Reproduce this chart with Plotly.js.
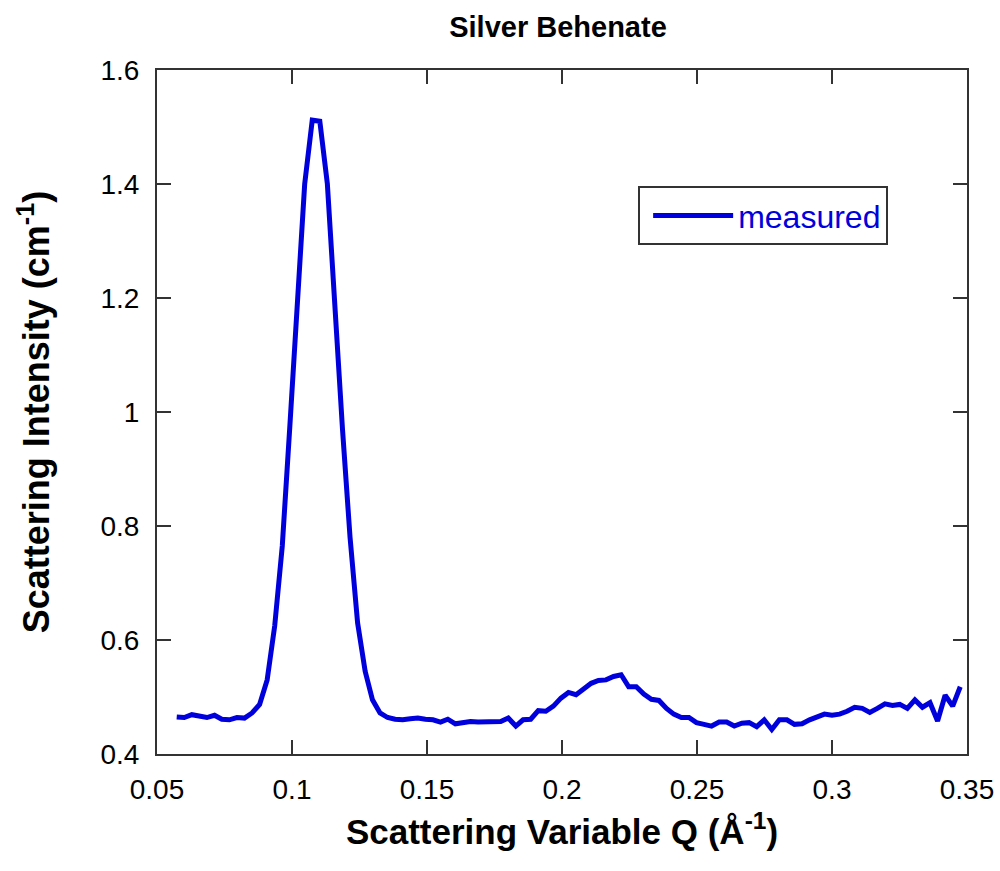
<!DOCTYPE html>
<html>
<head>
<meta charset="utf-8">
<script src="https://cdn.plot.ly/plotly-3.0.1.min.js"></script>
<style>html,body{margin:0;padding:0;background:#fff;}#chart{width:1000px;height:871px;}</style>
</head>
<body>
<div id="chart"></div>
<script>
// Scattering variable Q (1/Angstrom)
const qValues = [
  0.0573, 0.0601, 0.0629, 0.0657, 0.0685, 0.0713, 0.0740, 0.0768, 0.0796, 0.0824,
  0.0852, 0.0880, 0.0908, 0.0936, 0.0964, 0.0992, 0.1019, 0.1047, 0.1075, 0.1103,
  0.1131, 0.1159, 0.1187, 0.1215, 0.1243, 0.1271, 0.1298, 0.1326, 0.1354, 0.1382,
  0.1410, 0.1438, 0.1466, 0.1494, 0.1522, 0.1550, 0.1577, 0.1605, 0.1633, 0.1661,
  0.1689, 0.1717, 0.1745, 0.1773, 0.1801, 0.1829, 0.1856, 0.1884, 0.1912, 0.1940,
  0.1968, 0.1996, 0.2024, 0.2052, 0.2080, 0.2108, 0.2135, 0.2163, 0.2191, 0.2219,
  0.2247, 0.2275, 0.2303, 0.2331, 0.2359, 0.2387, 0.2414, 0.2442, 0.2470, 0.2498,
  0.2526, 0.2554, 0.2582, 0.2610, 0.2638, 0.2666, 0.2693, 0.2721, 0.2749, 0.2777,
  0.2805, 0.2833, 0.2861, 0.2889, 0.2917, 0.2945, 0.2972, 0.3000, 0.3028, 0.3056,
  0.3084, 0.3112, 0.3140, 0.3168, 0.3196, 0.3224, 0.3251, 0.3279, 0.3307, 0.3335,
  0.3363, 0.3391, 0.3419, 0.3447, 0.3475
];
// Scattering intensity (1/cm), "measured"
const intensity = [
  0.465, 0.464, 0.469, 0.466, 0.464, 0.468, 0.461, 0.460, 0.464, 0.463,
  0.472, 0.487, 0.530, 0.625, 0.765, 0.975, 1.190, 1.400, 1.512, 1.510,
  1.400, 1.170, 0.970, 0.780, 0.630, 0.545, 0.495, 0.472, 0.464, 0.461,
  0.460, 0.462, 0.463, 0.461, 0.460, 0.456, 0.461, 0.453, 0.455, 0.457,
  0.456, 0.456, 0.456, 0.457, 0.463, 0.449, 0.460, 0.461, 0.476, 0.475,
  0.484, 0.498, 0.508, 0.504, 0.514, 0.524, 0.529, 0.530, 0.536, 0.539,
  0.518, 0.518, 0.505, 0.496, 0.494, 0.480, 0.470, 0.464, 0.464, 0.455,
  0.452, 0.449, 0.456, 0.456, 0.449, 0.454, 0.455, 0.448, 0.460, 0.443,
  0.460, 0.460, 0.452, 0.453, 0.460, 0.465, 0.470, 0.468, 0.470, 0.475,
  0.482, 0.480, 0.473, 0.480, 0.488, 0.485, 0.487, 0.480, 0.495, 0.482,
  0.490, 0.458, 0.503, 0.484, 0.518
];
const seriesName = "measured";
const xTicks = [0.05, 0.1, 0.15, 0.2, 0.25, 0.3, 0.35];
const xTickText = ["0.05", "0.1", "0.15", "0.2", "0.25", "0.3", "0.35"];
const yTicks = [0.4, 0.6, 0.8, 1.0, 1.2, 1.4, 1.6];
const yTickText = ["0.4", "0.6", "0.8", "1", "1.2", "1.4", "1.6"];

const FONT = "Liberation Sans, Arial, Helvetica, sans-serif";
const BLUE = "rgb(0,0,220)";

const trace = {
  x: qValues, y: intensity, type: "scatter", mode: "lines", name: seriesName,
  line: {color: BLUE, width: 5}
};

const axisCommon = {
  showgrid: false, zeroline: false, showline: true, linecolor: "#333", linewidth: 2,
  mirror: "ticks", ticks: "inside", ticklen: 14, tickwidth: 1.5, tickcolor: "#333",
  tickfont: {family: FONT, size: 28, color: "#000"}, automargin: false
};

const layout = {
  width: 1000, height: 871,
  paper_bgcolor: "#fff", plot_bgcolor: "#fff",
  margin: {l: 157, r: 33, t: 70, b: 117},
  showlegend: true,
  title: {text: "<b>Silver Behenate</b>", font: {family: FONT, size: 29, color: "#000"},
          x: 0.558, xref: "container", xanchor: "center", y: 0.969, yref: "container", yanchor: "middle"},
  xaxis: Object.assign({}, axisCommon, {
    range: [0.05, 0.35], tickmode: "array", tickvals: xTicks, ticktext: xTickText,
    ticklabelstandoff: 9,
    title: {text: "<b>Scattering Variable Q (Å<sup>-1</sup>)</b>", font: {family: FONT, size: 35, color: "#000"}, standoff: 16}
  }),
  yaxis: Object.assign({}, axisCommon, {
    range: [0.4, 1.6], tickmode: "array", tickvals: yTicks, ticktext: yTickText,
    ticklabelstandoff: 10,
    title: {text: "<b>Scattering Intensity (cm<sup>-1</sup>)</b>", font: {family: FONT, size: 36, color: "#000"}, standoff: 40}
  }),
  legend: {
    x: 0.594, y: 0.83, xanchor: "left", yanchor: "top",
    bgcolor: "#fff", bordercolor: "#333", borderwidth: 2,
    font: {family: FONT, size: 32, color: BLUE},
    itemwidth: 80, indentation: 8
  }
};

Plotly.newPlot("chart", [trace], layout, {displayModeBar: false, staticPlot: true});
</script>
</body>
</html>
